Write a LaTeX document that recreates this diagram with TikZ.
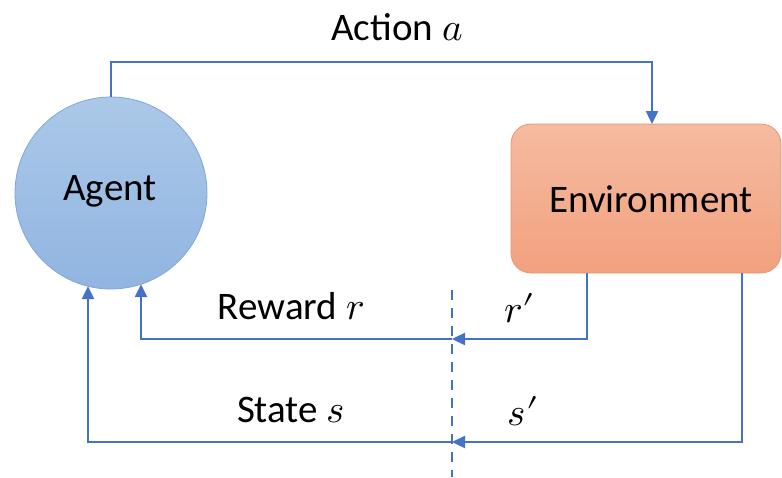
\documentclass[tikz,border=0pt]{standalone}
\usepackage{fontspec}
\usepackage{unicode-math}
\setmainfont{Carlito}
\setmathfont{Latin Modern Math}
\usetikzlibrary{arrows.meta,calc}
\definecolor{lineblue}{HTML}{4472C4}
\definecolor{agtop}{HTML}{ABC8E8}
\definecolor{agbot}{HTML}{91B5E1}
\definecolor{agline}{HTML}{7FA6D8}
\definecolor{envtop}{HTML}{F5BBA1}
\definecolor{envbot}{HTML}{F2A17E}
\definecolor{envline}{HTML}{E9956C}
\newcommand{\bigprm}{\mkern0mu\mathord{\prime}}
\tikzset{
  conn/.style={draw=lineblue, line width=2.4pt, -{Triangle[length=13pt,width=12pt]}},
  plain/.style={draw=lineblue, line width=2.4pt},
  dashline/.style={draw=lineblue, line width=2.4pt, dash pattern=on 10pt off 8pt},
  agentnode/.style={circle, minimum size=192pt, inner sep=0pt, top color=agtop, bottom color=agbot, draw=agline, line width=0.8pt},
  envnode/.style={rectangle, rounded corners=20pt, minimum width=270pt, minimum height=149pt, inner sep=0pt, top color=envtop, bottom color=envbot, draw=envline, line width=0.8pt},
  lbl/.style={inner sep=0pt, font=\fontsize{39}{42}\selectfont}
}
\begin{document}
\begin{tikzpicture}[x=1pt,y=-1pt]
\useasboundingbox (0,0) rectangle (782,477);
\node[agentnode] (agent) at (111,193) {};
\node[lbl] (agenttxt) at (110,191) {Agent};
\node[envnode] (env) at (646,198.5) {};
\node[lbl] (envtxt) at (651,199) {Environment};
% labels
\node[lbl] (action) at (397,27) {Action $a$};
\node[lbl] (reward) at (291,306) {Reward $r$};
\node[lbl, anchor=base] (rp) at (520,322) {$r\bigprm$};
\node[lbl] (state) at (291,410) {State $s$};
\node[lbl, anchor=base] (sp) at (523,425) {$s\bigprm$};
% dashed divider
\coordinate (dtop) at (452,290);
\coordinate (dbot) at (452,477);
\draw[dashline] (dtop) -- (dbot);
% junctions on the divider
\coordinate (rj) at (452,339);
\coordinate (sj) at (452,442);
% action
\coordinate (atop) at (111,62);
\draw[conn] (agent.north) -- (atop) -| (652,124);
% reward
\draw[conn] (587,273) |- (rj);
\draw[conn] (rj) -| ($(agent.center)+(30,91.2)$);
% state
\draw[conn] (742,273) |- (sj);
\draw[conn] (sj) -| ($(agent.center)+(-23,93.2)$);
\end{tikzpicture}
\end{document}
